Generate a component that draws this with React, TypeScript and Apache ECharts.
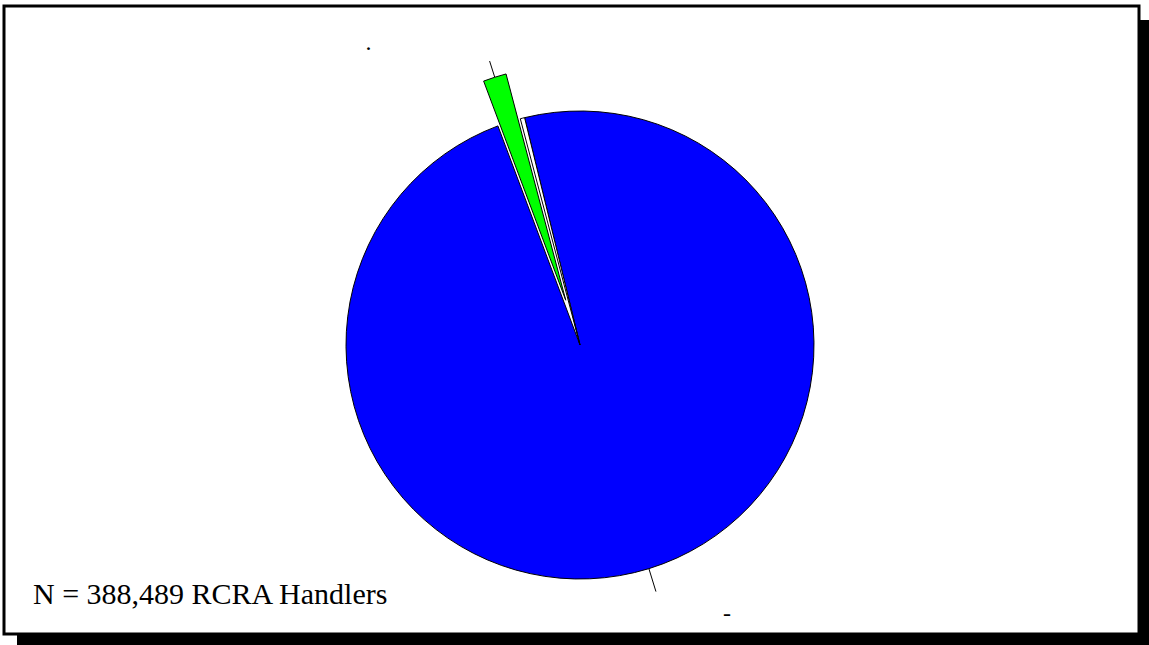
import React, { useEffect, useRef } from "react";
import * as echarts from "echarts";

const sliceNames = ["Blue", "Green", "White"];
const sliceValues = [98.1, 1.6, 0.3];
const sliceColors = ["#0000FF", "#00FF00", "#FFFFFF"];
const sliceLabels = ["-", ".", ""];
const noteText = "N = 388,489 RCRA Handlers";

export default function App() {
  const ref = useRef<HTMLDivElement>(null);
  useEffect(() => {
    if (!ref.current) return;
    const chart = echarts.init(ref.current, null, { renderer: "svg" });
    const font = "'Liberation Serif', 'Times New Roman', serif";
    const data = sliceNames.map((name, i) => {
      const item: any = {
        name,
        value: sliceValues[i],
        itemStyle: { color: sliceColors[i], borderColor: "#000", borderWidth: 1 },
        label: { show: false },
        labelLine: { show: false },
      };
      if (i === 0) {
        item.label = {
          show: true,
          formatter: "{a|" + sliceLabels[i] + "}",
          rich: {
            a: {
              fontFamily: font,
              fontSize: 24,
              color: "#000",
              padding: [42, 0, 0, 67],
            },
          },
        };
        item.labelLine = { show: true, length: 24, length2: 0 };
      }
      if (i === 1) {
        item.selected = true;
        item.label = {
          show: true,
          formatter: "{a|" + sliceLabels[i] + "}",
          rich: {
            a: {
              fontFamily: font,
              fontSize: 24,
              color: "#000",
              padding: [0, 118, 38, 0],
            },
          },
        };
        item.labelLine = { show: true, length: 17, length2: 0 };
      }
      return item;
    });
    chart.setOption({
      animation: false,
      graphic: [
        {
          type: "rect",
          z: 0,
          shape: { x: 17, y: 20, width: 1132, height: 625 },
          style: { fill: "#000" },
          silent: true,
        },
        {
          type: "rect",
          z: 1,
          shape: { x: 4, y: 6, width: 1135, height: 628 },
          style: { fill: "#fff", stroke: "#000", lineWidth: 3 },
          silent: true,
        },
        {
          type: "text",
          z: 5,
          x: 33,
          y: 578,
          style: {
            text: noteText,
            font: "30px 'Liberation Serif', 'Times New Roman', serif",
            fill: "#000",
          },
        },
      ],
      series: [
        {
          type: "pie",
          z: 3,
          center: [580, 345],
          radius: 234,
          startAngle: 103.7,
          clockwise: true,
          avoidLabelOverlap: false,
          selectedMode: "single",
          selectedOffset: 47,
          label: { position: "outside", distanceToLabelLine: 0 },
          labelLine: { lineStyle: { color: "#000", width: 1 } },
          emphasis: { disabled: true },
          select: { itemStyle: { borderColor: "#000", borderWidth: 1 } },
          data,
        },
      ],
    });
    return () => chart.dispose();
  }, []);
  return (
    <div
      ref={ref}
      style={{ position: "absolute", left: 0, top: 0, width: 1149, height: 645 }}
    />
  );
}
